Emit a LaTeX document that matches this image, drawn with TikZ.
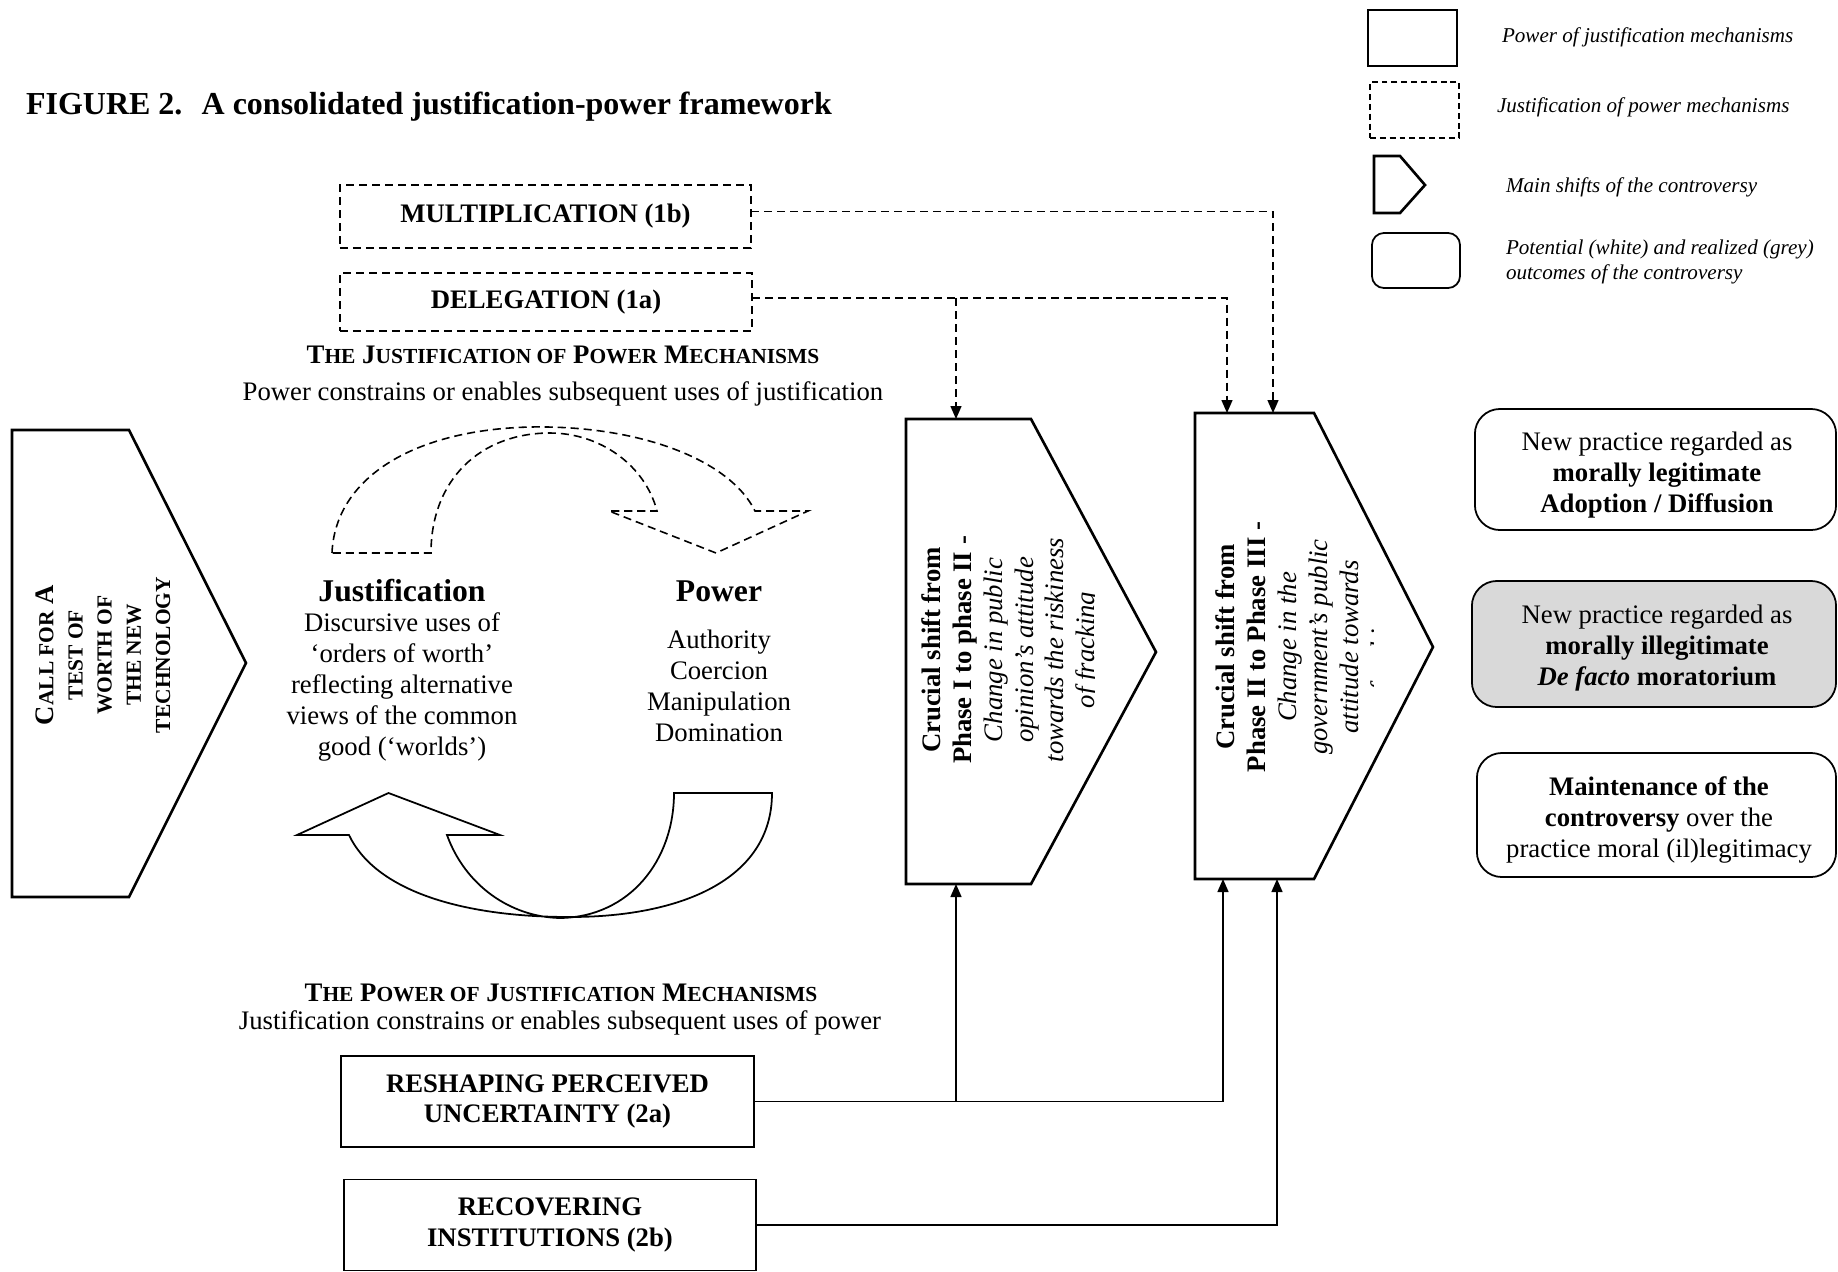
\documentclass[tikz,border=0pt]{standalone}
\usepackage{fontspec}
\setmainfont{Liberation Serif}
\usetikzlibrary{arrows.meta,calc}
\newcommand\bodyfs{\fontsize{7.6}{8.8}\selectfont}
\newcommand\callfs{\fontsize{7.6}{8.3}\selectfont}
\newcommand\smc[1]{{\fontsize{6.1}{8.3}\selectfont #1}}
\newcommand\legfs{\fontsize{6}{7.3}\selectfont}
\newcommand\headfs{\fontsize{9}{10.5}\selectfont}
\newcommand\titlefs{\fontsize{9.1}{10.5}\selectfont}
\definecolor{outgrey}{HTML}{D9D9D9}
\begin{document}
\begin{tikzpicture}[x=0.01cm,y=-0.01cm,
  every node/.style={inner sep=0pt,outer sep=0pt},
  txt/.style={font=\bodyfs,align=center},
  solidbox/.style={draw,line width=0.5pt,fill=white,align=center,font=\bodyfs\bfseries},
  dashbox/.style={draw,line width=0.4pt,dash pattern=on 2.3pt off 1.4pt,align=center,font=\bodyfs\bfseries},
  outbox/.style={draw,line width=0.5pt,rounded corners=0.25cm},
  shiftshape/.style={draw,line width=0.75pt,fill=white},
  conn/.style={line width=0.4pt},
  dconn/.style={line width=0.4pt,dash pattern=on 2.3pt off 1.4pt},
  tipped/.style={-{Triangle[length=0.13cm,width=0.11cm]}},
  legtxt/.style={anchor=west,font=\legfs\itshape,align=left}]
\useasboundingbox (0,0) rectangle (1838,1272);

% title
\node[anchor=west,font=\titlefs\bfseries] (title) at (26,107) {FIGURE 2.\hspace{0.6em}A consolidated justification-power framework};

% legend
\node[draw,line width=0.5pt,minimum width=0.89cm,minimum height=0.56cm] (lg1) at (1412.5,38) {};
\node[draw,line width=0.5pt,dash pattern=on 1.7pt off 1.1pt,minimum width=0.89cm,minimum height=0.56cm] (lg2) at (1414.5,110) {};
\draw[line width=0.75pt] (1374,156) -- (1400,156) -- (1425,185) -- (1400,213) -- (1374,213) -- cycle;
\node[draw,line width=0.5pt,rounded corners=0.12cm,minimum width=0.88cm,minimum height=0.55cm] (lg4) at (1416,260.5) {};
\node[legtxt] (lt1) at (1502,37) {Power of justification mechanisms};
\node[legtxt] (lt2) at (1497,107) {Justification of power mechanisms};
\node[legtxt] (lt3) at (1506,187) {Main shifts of the controversy};
\node[legtxt] (lt4) at (1506,262) {Potential (white) and realized (grey)\\outcomes of the controversy};

% top dashed boxes
\node[dashbox,minimum width=4.11cm,minimum height=0.63cm] (mult) at (545.5,216.5) {MULTIPLICATION (1b)};
\node[dashbox,minimum width=4.12cm,minimum height=0.58cm] (deleg) at (546,302) {DELEGATION (1a)};
\node[txt,font=\bodyfs\bfseries] (jpm) at (563,355) {T\smc{HE} J\smc{USTIFICATION OF} P\smc{OWER} M\smc{ECHANISMS}};
\node[txt] (jpmsub) at (563,394) {Power constrains or enables subsequent uses of justification};

% call for a test
\draw[shiftshape] (12,430) -- (129,430) -- (246,663) -- (129,897) -- (12,897) -- cycle;
\node[align=center,font=\callfs\bfseries,rotate=90] (call) at (103,655)
  {C\smc{ALL FOR} A\\\smc{TEST OF}\\\smc{WORTH OF}\\\smc{THE NEW}\\\smc{TECHNOLOGY}};

% cycle
\draw[line width=0.45pt,dash pattern=on 2.3pt off 1.4pt]
  (332,553) .. controls (335,480) and (410,430) .. (530,427)
  .. controls (640,425) and (730,460) .. (755,511)
  -- (808,511) -- (716,553) -- (609,511) -- (657,511)
  .. controls (645,465) and (600,433) .. (550,433)
  .. controls (480,433) and (431,480) .. (431,553) -- cycle;
\draw[line width=0.5pt,fill=white]
  (297,835) -- (388.5,793) -- (500,835) -- (447,835)
  .. controls (465,885) and (510,917) .. (560,918)
  .. controls (630,917) and (674,860) .. (674,793)
  -- (772,793)
  .. controls (772,880) and (680,917) .. (570,917)
  .. controls (460,917) and (375,890) .. (349,835) -- cycle;
\node[font=\headfs\bfseries] (just) at (402,591) {Justification};
\node[font=\headfs\bfseries] (pow) at (719,591) {Power};
\node[txt] (justd) at (402,687) {Discursive uses of\\‘orders of worth’\\reflecting alternative\\views of the common\\good (‘worlds’)};
\node[txt] (powd) at (719,686) {Authority\\Coercion\\Manipulation\\Domination};

% shifts
\draw[shiftshape] (906,419) -- (1031,419) -- (1156,652) -- (1031,884) -- (906,884) -- cycle;
\draw[shiftshape] (1195,413) -- (1314,413) -- (1433,647) -- (1314,879) -- (1195,879) -- cycle;
\begin{scope}
\clip (900,400) rectangle (1094,900);
\node[txt,rotate=90] (s1txt) at (1011,650) {\textbf{Crucial shift from}\\\textbf{Phase I to phase II -}\\\textit{Change in public}\\\textit{opinion’s attitude}\\\textit{towards the riskiness}\\\textit{of fracking}};
\end{scope}
\begin{scope}
\clip (1190,400) rectangle (1373,900);
\node[txt,rotate=90] (s2txt) at (1305.5,647) {\textbf{Crucial shift from}\\\textbf{Phase II to Phase III -}\\\textit{Change in the}\\\textit{government’s public}\\\textit{attitude towards}\\\textit{fracking}};
\end{scope}
\coordinate (s1t) at (956,419);
\coordinate (s1b) at (956,884);
\coordinate (s2ta) at (1227,413);
\coordinate (s2tb) at (1273,413);
\coordinate (s2ba) at (1223,879);
\coordinate (s2bb) at (1277,879);

% outcomes
\node[outbox,minimum width=3.61cm,minimum height=1.21cm] (o1) at (1655.5,469.5) {};
\node[txt] (o1t) at (1657,475) {New practice regarded as\\\textbf{morally legitimate}\\\textbf{Adoption / Diffusion}};
\node[outbox,fill=outgrey,minimum width=3.64cm,minimum height=1.26cm] (o2) at (1654,644) {};
\node[txt] (o2t) at (1657,648) {New practice regarded as\\\textbf{morally illegitimate}\\\textbf{\textit{De facto} moratorium}};
\node[outbox,minimum width=3.59cm,minimum height=1.24cm] (o3) at (1656.5,815) {};
\node[txt] (o3t) at (1659,820) {\textbf{Maintenance of the}\\\textbf{controversy} over the\\practice moral (il)legitimacy};

% bottom
\node[txt,font=\bodyfs\bfseries] (pjm) at (561,993) {T\smc{HE} P\smc{OWER OF} J\smc{USTIFICATION} M\smc{ECHANISMS}};
\node[txt] (pjmsub) at (560,1023) {Justification constrains or enables subsequent uses of power};
\node[solidbox,minimum width=4.13cm,minimum height=0.91cm] (resh) at (547.5,1101.5) {RESHAPING PERCEIVED\\UNCERTAINTY (2a)};
\node[solidbox,minimum width=4.12cm,minimum height=0.91cm] (recov) at (550,1225) {RECOVERING\\INSTITUTIONS (2b)};

% connectors
\coordinate (jd) at (956,298);
\coordinate (jb) at (956,1101.5);
\draw[dconn,tipped] ($(mult.east)+(0,-5)$) -| (s2tb);
\draw[dconn,tipped] ($(deleg.east)+(0,-4)$) -| (s2ta);
\draw[dconn,tipped] (jd) -- (s1t);
\draw[conn,tipped] (resh.east) -| (s2ba);
\draw[conn,tipped] (jb) -- (s1b);
\draw[conn,tipped] (recov.east) -| (s2bb);
\end{tikzpicture}
\end{document}
